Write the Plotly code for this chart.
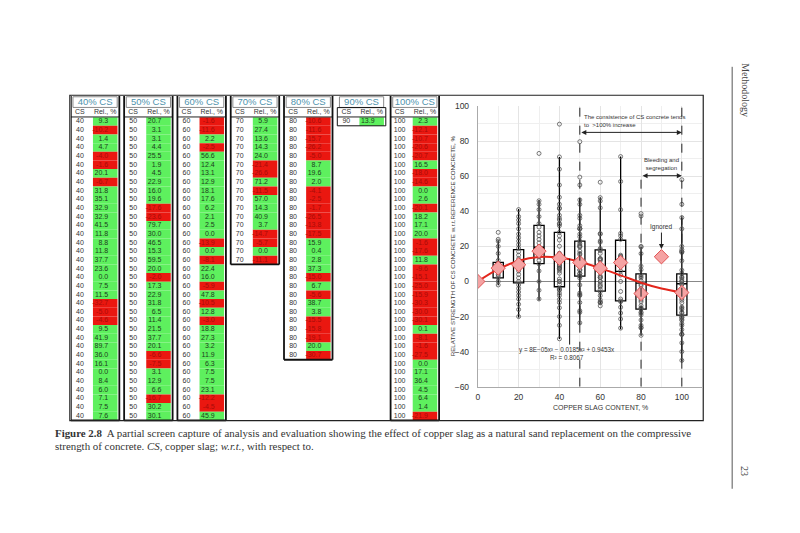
import plotly.graph_objects as go

# ---------------- table data (screen capture) ----------------
table_titles = ["40% CS", "50% CS", "60% CS", "70% CS", "80% CS", "90% CS", "100% CS"]
cs_levels = [40, 50, 60, 70, 80, 90, 100]

rel_40 = [9.3, -10.2, 1.4, 4.7, -4.0, -1.6, 20.1, -6.7, 31.8, 35.1, 32.9, 32.9, 41.5, 11.8, 8.8,
          11.8, 37.7, 23.6, 0.0, 7.5, 11.5, -32.7, -5.0, -4.6, 9.5, 41.9, 89.7, 36.0, 16.1, 0.0,
          8.4, 6.0, 7.1, 7.5, 7.6]
rel_50 = [20.7, 3.1, 3.1, 4.4, 25.5, 1.9, 4.5, 22.9, 16.0, 19.6, -17.6, -23.6, 79.7, 30.0, 46.5,
          15.3, 59.5, 20.0, -2.0, 17.3, 22.9, 31.8, 6.5, 11.4, 21.5, 37.7, 20.1, -6.6, -7.5, 3.1,
          12.9, 6.6, -16.7, 30.2, 30.1]
rel_60 = [-1.6, -11.6, 2.2, -2.5, 56.6, 12.4, 13.1, 12.9, 18.1, 17.6, 6.2, 2.1, 2.5, 0.0, -13.9,
          0.0, -8.1, 22.4, 16.0, -5.9, 47.8, -10.5, 12.8, -3.0, 18.8, 27.3, 3.2, 11.9, 6.3, 7.5,
          7.5, 23.1, -12.2, -4.5, 45.9]
rel_70 = [5.9, 27.4, 13.6, 14.3, 24.0, -21.4, -26.6, 71.2, -11.5, 57.0, 14.3, 40.9, 3.7, -14.7,
          -5.7, 0.0, -11.1]
rel_80 = [-10.6, -11.6, -15.7, -26.2, -5.0, 8.7, 19.6, 2.0, -4.1, -2.5, -1.7, -26.5, -13.8, -17.5,
          15.9, 0.4, 2.8, 37.3, -15.0, 6.7, -5.6, 38.7, 3.8, -15.5, -15.8, -19.1, 20.0, -30.7]
rel_90 = [13.9]
rel_100 = [2.3, -12.1, -10.7, -20.6, -20.7, 16.5, -18.0, -14.6, 0.0, 2.6, -20.1, 18.2, 17.1, 20.0,
           -1.6, -17.6, 11.8, -9.6, -15.1, -25.0, -15.9, -30.3, -30.0, -30.1, 0.1, -8.1, -1.6,
           -27.5, 0.0, 17.1, 36.4, 4.5, 6.4, 1.4, -21.9]
rel_tables = [rel_40, rel_50, rel_60, rel_70, rel_80, rel_90, rel_100]

# ---------------- chart data ----------------
pts_10 = [28, 24, 23, 20, 16, 12, 10, 9, 8, 7, 6, 5, 4, 3, 2, 0, -2]
pts_20 = [41, 37, 35, 33, 30, 27, 25, 23, 21, 19, 17, 15, 13, 11, 10, 8, 6, 4, 2, 0, -2, -4, -6,
          -8, -10, -13, -16, -20]
pts_30 = [73, 46, 44, 41, 37, 33, 31, 28, 26, 24, 22, 20, 18, 17, 16, 14, 12, 10, 6, 0, -5, -10]
extra_40 = [71, 64, 55, 48, 44, 28, 26, -8, -12, -15, -20, -25]
extra_50 = [55, 44, 36, 27, -8, -12]
extra_60 = [42, 27, -12]
extra_70 = [26, 15, -10, -18]
extra_80 = [-18, -22, -25]
extra_100 = [58, 44, 30, -22, -24, -35, -40, -45]

box_x = [10, 20, 30, 40, 50, 60, 70, 80, 100]
box_q1 = [2.0, -0.8, 10.2, -3.0, 3.0, -5.5, -11.1, -15.8, -19.2]
box_med = [7.0, 10.0, 19.5, 13.0, 11.0, 7.5, 5.8, -1.0, -1.3]
box_q3 = [10.9, 18.1, 32.0, 28.0, 23.0, 18.0, 23.5, 4.3, 4.3]
box_lo = [-2.1, -20.6, -10.8, -32.8, -24.3, -13.0, -27.2, -31.0, -45.7]
box_hi = [23.5, 41.3, 46.4, 71.0, 47.5, 48.0, 71.2, 20.0, 36.4]

mean_x = [0, 10, 20, 30, 40, 50, 60, 70, 80, 90, 100]
mean_y = [0.0, 7.6, 9.5, 17.3, 13.2, 10.8, 7.6, 10.8, -6.9, 14.1, -6.3]

trend_x = [0, 10, 20, 30, 40, 50, 60, 70, 80, 90, 100]
trend_y = [0.0, 7.0, 11.8, 14.0, 13.6, 11.2, 7.6, 3.5, -0.7, -4.0, -6.3]

# ---------------- helpers (page pixel -> paper) ----------------
W, H = 800, 533
def px(x):
    return x / W
def py(y):
    return 1 - y / H

fig = go.Figure()

# ======== tables on x2/y2 (x: table index units, y: row index) ========
GREEN = "#5ef05e"
RED = "#ea1710"
bar_x, bar_base, bar_col = [], [], []
cs_tx, cs_ty, cs_t = [], [], []
g_tx, g_ty, g_t = [], [], []
r_tx, r_ty, r_t = [], [], []
hd_x, hd_y, hd_t = [], [], []
tt_x, tt_y, tt_t = [], [], []
shapes = []
for k, (title, cs, rel) in enumerate(zip(table_titles, cs_levels, rel_tables)):
    n = len(rel)
    for j, v in enumerate(rel):
        bar_x.append(k + 0.645)
        bar_base.append(j - 0.5)
        bar_col.append(GREEN if v >= 0 else RED)
        cs_tx.append(k + 0.17); cs_ty.append(j); cs_t.append(str(cs))
        if v >= 0:
            g_tx.append(k + 0.70); g_ty.append(j); g_t.append(f"{v:.1f}")
        else:
            r_tx.append(k + 0.70); r_ty.append(j); r_t.append(f"{v:.1f}")
    hd_x += [k + 0.17, k + 0.645]; hd_y += [-1.05, -1.05]; hd_t += ["CS", "Rel., %"]
    tt_x.append(k + 0.455); tt_y.append(-2.22); tt_t.append(title)
    shapes.append(dict(type="rect", xref="x2", yref="y2", x0=k + 0.04, x1=k + 0.87,
                       y0=-2.85, y1=-1.62, line=dict(color="#8a8a8a", width=1)))
    shapes.append(dict(type="line", xref="x2", yref="y2", x0=k, x1=k + 0.91,
                       y0=-0.52, y1=-0.52, line=dict(color="#222", width=1)))
    wid = 1 if title == "90% CS" else 1.8
    top = -1.6 if title == "90% CS" else -2.95
    for xx in (k, k + 0.91):
        shapes.append(dict(type="line", xref="x2", yref="y2", x0=xx, x1=xx,
                           y0=top, y1=n - 0.5, line=dict(color="#111", width=wid)))
    shapes.append(dict(type="line", xref="x2", yref="y2", x0=k, x1=k + 0.91,
                       y0=n - 0.5, y1=n - 0.5, line=dict(color="#111", width=wid)))
    if title == "90% CS":
        shapes.append(dict(type="line", xref="x2", yref="y2", x0=k, x1=k + 0.91,
                           y0=-1.6, y1=-1.6, line=dict(color="#111", width=1)))

fig.add_trace(go.Bar(x=bar_x, y=[1] * len(bar_x), base=bar_base, width=0.46,
                     marker=dict(color=bar_col, line=dict(width=0)),
                     xaxis="x2", yaxis="y2", showlegend=False, hoverinfo="skip"))
TF = "Liberation Sans"
fig.add_trace(go.Scatter(x=cs_tx, y=cs_ty, text=cs_t, mode="text", xaxis="x2", yaxis="y2",
                         textfont=dict(family=TF, size=7, color="#333"), showlegend=False,
                         hoverinfo="skip"))
fig.add_trace(go.Scatter(x=g_tx, y=g_ty, text=g_t, mode="text", xaxis="x2", yaxis="y2",
                         textposition="middle left",
                         textfont=dict(family=TF, size=7, color="#1d3d1d"), showlegend=False,
                         hoverinfo="skip"))
fig.add_trace(go.Scatter(x=r_tx, y=r_ty, text=r_t, mode="text", xaxis="x2", yaxis="y2",
                         textposition="middle left",
                         textfont=dict(family=TF, size=7, color="#a80c08"), showlegend=False,
                         hoverinfo="skip"))
fig.add_trace(go.Scatter(x=hd_x, y=hd_y, text=hd_t, mode="text", xaxis="x2", yaxis="y2",
                         textfont=dict(family=TF, size=7, color="#333"), showlegend=False,
                         hoverinfo="skip"))
fig.add_trace(go.Scatter(x=tt_x, y=tt_y, text=tt_t, mode="text", xaxis="x2", yaxis="y2",
                         textfont=dict(family=TF, size=9.5, color="#4f93ad"), showlegend=False,
                         hoverinfo="skip"))

# ======== chart ========
fig.add_trace(go.Box(x=box_x, q1=box_q1, median=box_med, q3=box_q3, lowerfence=box_lo,
                     upperfence=box_hi, width=5, whiskerwidth=0, boxpoints=False,
                     fillcolor="rgba(255,255,255,0)", line=dict(color="black", width=1.3),
                     xaxis="x", yaxis="y", showlegend=False, hoverinfo="skip"))

groups = [(10, pts_10), (20, pts_20), (30, pts_30),
          (40, rel_40 + extra_40), (50, rel_50 + extra_50), (60, rel_60 + extra_60),
          (70, rel_70 + extra_70), (80, rel_80 + extra_80), (100, rel_100 + extra_100)]
sx, sy = [], []
for gx, vals in groups:
    sx += [gx] * len(vals)
    sy += list(vals)
fig.add_trace(go.Scatter(x=sx, y=sy, mode="markers", xaxis="x", yaxis="y",
                         marker=dict(symbol="circle-open", size=4, color="#555",
                                     line=dict(width=0.8)), showlegend=False, hoverinfo="skip"))

fig.add_trace(go.Scatter(x=trend_x, y=trend_y, mode="lines", line=dict(color="#e3261c", width=2,
                         shape="spline"), xaxis="x", yaxis="y", showlegend=False,
                         hoverinfo="skip"))
fig.add_trace(go.Scatter(x=mean_x, y=mean_y, mode="markers", xaxis="x", yaxis="y",
                         marker=dict(symbol="diamond", size=11, color="#f5a3a3",
                                     line=dict(color="#e05252", width=1)),
                         showlegend=False, hoverinfo="skip"))

for gx, top in [(50, 100), (80, 60), (100, 100)]:
    shapes.append(dict(type="line", xref="x", yref="y", x0=gx, x1=gx, y0=-60, y1=top,
                       line=dict(color="#222", width=1, dash="dash")))
shapes.append(dict(type="line", xref="x", yref="y", x0=45, x1=45, y0=-36, y1=13,
                   line=dict(color="#111", width=1)))

shapes.append(dict(type="rect", xref="paper", yref="paper", x0=px(68), x1=px(703),
                   y0=py(423.5), y1=py(92), line=dict(color="#222", width=1.2)))
shapes.append(dict(type="line", xref="paper", yref="paper", x0=px(732), x1=px(732),
                   y0=py(63), y1=py(493), line=dict(color="#555", width=1)))

CF = "Liberation Sans"
ann = []
ann.append(dict(x=51, y=91.3, xref="x", yref="y", xanchor="left", yanchor="middle",
                text="The consistence of CS concrete tends<br>to  >100% increase", showarrow=False,
                align="left", font=dict(family=CF, size=6, color="#333")))
ann.append(dict(x=100, y=85, ax=50, ay=85, xref="x", yref="y", axref="x", ayref="y", text="",
                showarrow=True, arrowside="end+start", arrowhead=2, arrowsize=1, arrowwidth=1,
                arrowcolor="#222"))
ann.append(dict(x=90, y=67, xref="x", yref="y", text="Bleeding and<br>segregation",
                showarrow=False, font=dict(family=CF, size=6, color="#333")))
ann.append(dict(x=100, y=60.3, ax=80, ay=60.3, xref="x", yref="y", axref="x", ayref="y",
                text="", showarrow=True, arrowside="end+start", arrowhead=2, arrowsize=1,
                arrowwidth=1, arrowcolor="#222"))
ann.append(dict(x=90, y=18.5, ax=90, ay=31, xref="x", yref="y", axref="x", ayref="y",
                text="Ignored", showarrow=True, arrowhead=2, arrowsize=1, arrowwidth=1,
                arrowcolor="#222", font=dict(family=CF, size=6.5, color="#333")))
ann.append(dict(x=43.5, y=-40.8, xref="x", yref="y",
                text="y = 8E\u221205x\u00b3 \u2212 0.0185x\u00b2 + 0.9453x<br>R\u00b2 = 0.8067",
                showarrow=False, font=dict(family=CF, size=6.3, color="#333")))
ann.append(dict(x=px(600), y=py(410), xref="paper", yref="paper", xanchor="center",
                yanchor="middle", text="COPPER SLAG CONTENT, %", showarrow=False,
                font=dict(family=CF, size=7, color="#333")))
ann.append(dict(x=px(452), y=py(245), xref="paper", yref="paper", textangle=-90,
                xanchor="center", yanchor="middle",
                text="RELATIVE STRENGTH OF CS CONCRETE w.r.t.REFERENCE CONCRETE, %",
                showarrow=False, font=dict(family=CF, size=6.2, color="#333")))
SF = "Liberation Serif"
ann.append(dict(x=px(51), y=py(436), xref="paper", yref="paper", xanchor="left",
                yanchor="middle", showarrow=False, align="left",
                text="<b>Figure 2.8</b>  A partial screen capture of analysis and evaluation showing "
                     "the effect of copper slag as a natural sand replacement on the compressive",
                font=dict(family=SF, size=10.9, color="#333")))
ann.append(dict(x=px(51), y=py(449.5), xref="paper", yref="paper", xanchor="left",
                yanchor="middle", showarrow=False, align="left",
                text="strength of concrete. <i>CS</i>, copper slag; <i>w.r.t.</i>, with respect to.",
                font=dict(family=SF, size=10.9, color="#333")))
ann.append(dict(x=px(745), y=py(87), xref="paper", yref="paper", textangle=90,
                xanchor="center", yanchor="middle",
                text="Methodology", showarrow=False, font=dict(family=SF, size=10, color="#444")))
ann.append(dict(x=px(745), y=py(475), xref="paper", yref="paper", textangle=90,
                xanchor="center", yanchor="middle",
                text="23", showarrow=False, font=dict(family=SF, size=10, color="#444")))

fig.update_layout(
    width=W, height=H, margin=dict(l=0, r=0, t=0, b=0, pad=0),
    paper_bgcolor="white", plot_bgcolor="white", barmode="overlay",
    shapes=shapes, annotations=ann,
    xaxis=dict(domain=[px(477), px(702)], range=[0, 110], tickvals=[0, 20, 40, 60, 80, 100],
               showgrid=True, gridcolor="#e4e4e4", gridwidth=1,
               minor=dict(dtick=10, showgrid=True, gridcolor="#efefef"),
               showline=True, linecolor="#aaa", linewidth=1, zeroline=False, ticks="",
               ticklabelstandoff=2,
               tickfont=dict(family=CF, size=8.5, color="#333"), anchor="y"),
    yaxis=dict(domain=[py(389), py(103)], range=[-60, 100], dtick=20,
               showgrid=True, gridcolor="#e4e4e4", gridwidth=1,
               minor=dict(dtick=10, showgrid=True, gridcolor="#efefef"),
               showline=True, linecolor="#aaa", linewidth=1, zeroline=True,
               zerolinecolor="#888", zerolinewidth=1, ticks="", ticklabelstandoff=6,
               tickfont=dict(family=CF, size=8.5, color="#333"), anchor="x"),
    xaxis2=dict(domain=[px(69), px(443)], range=[0, 7], visible=False, anchor="y2",
                fixedrange=True),
    yaxis2=dict(domain=[py(427.75), py(92.2)], range=[35, -3], visible=False, anchor="x2",
                fixedrange=True),
)

fig.write_html("out.html", config={"displayModeBar": False},
               post_script="document.body.style.margin='0';")
